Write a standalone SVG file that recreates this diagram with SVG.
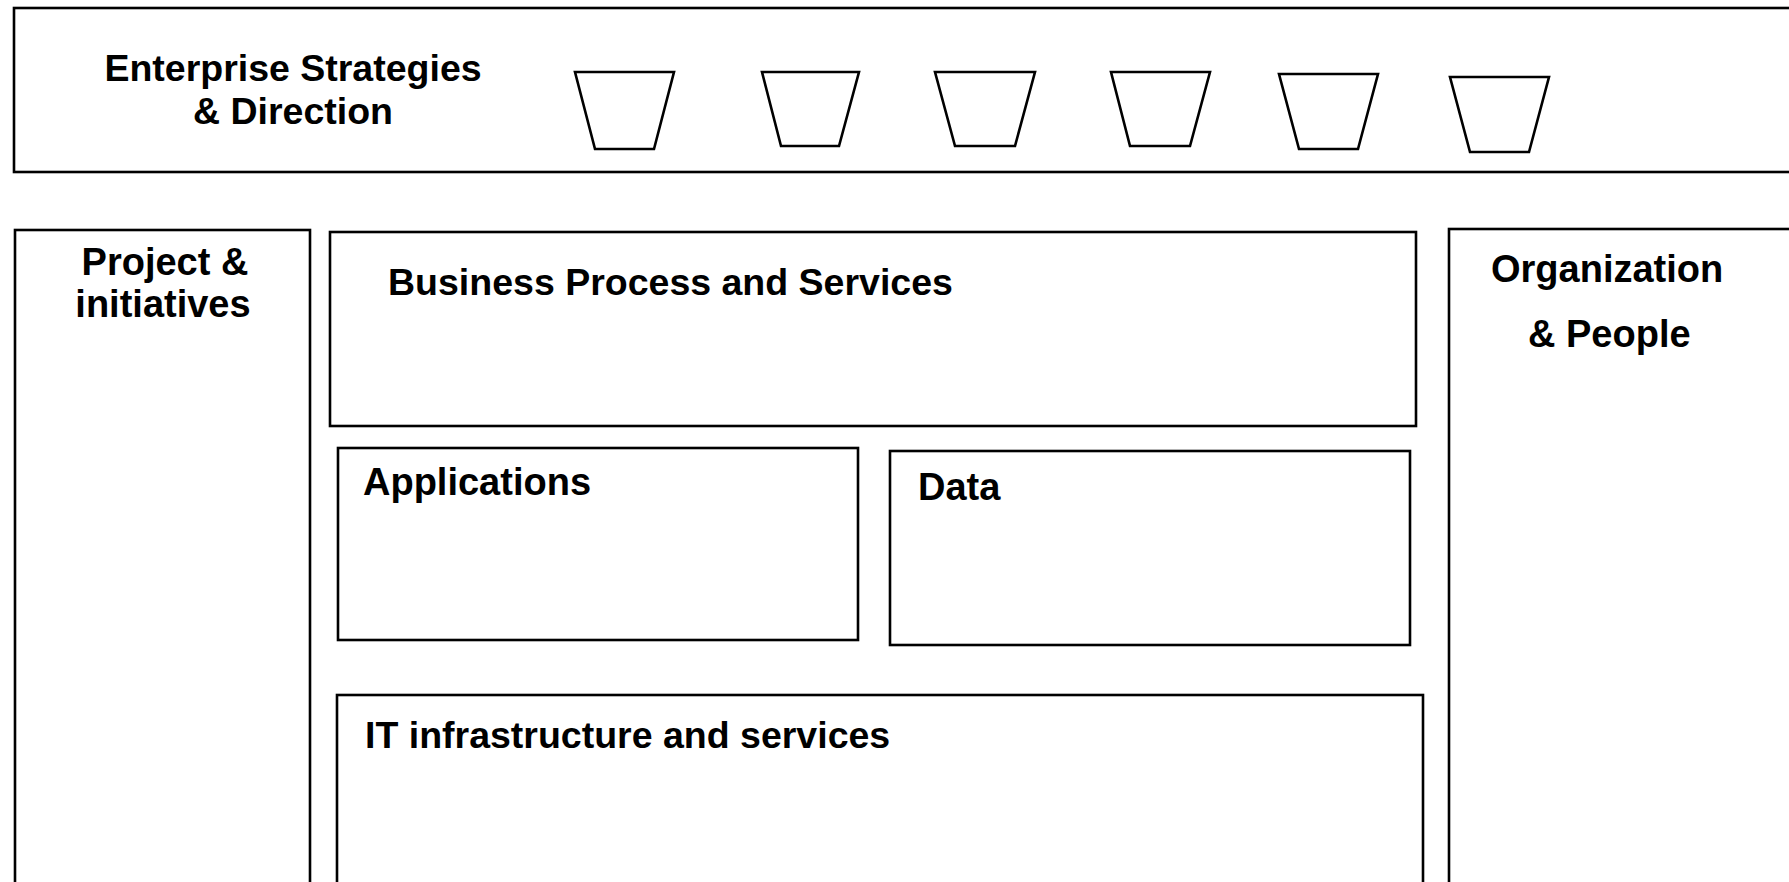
<svg xmlns="http://www.w3.org/2000/svg" width="1789" height="882" viewBox="0 0 1789 882">
<style>
.box{fill:#fff;stroke:#000;stroke-width:2.6}
.trap{fill:#fff;stroke:#000;stroke-width:2.6;stroke-linejoin:miter}
.lbl{font-family:"Liberation Sans",Arial,sans-serif;font-weight:bold;font-size:37.5px;fill:#000}
.lg{font-size:38px}
</style>
<rect width="1789" height="882" fill="#fff"/>
<g id="strategies">
<rect class="box" x="14" y="8" width="1800" height="164"/>
<text class="lbl" x="293" y="81" text-anchor="middle">Enterprise Strategies</text>
<text class="lbl" x="293" y="124" text-anchor="middle">&amp; Direction</text>
<polygon class="trap" points="575,72 674,72 654,149 595,149"/>
<polygon class="trap" points="762,72 859,72 839,146 781,146"/>
<polygon class="trap" points="935,72 1035,72 1015,146 955,146"/>
<polygon class="trap" points="1111,72 1210,72 1190,146 1130,146"/>
<polygon class="trap" points="1279,74 1378,74 1358,149 1299,149"/>
<polygon class="trap" points="1450,77 1549,77 1529,152 1470,152"/>
</g>
<g id="projects">
<rect class="box" x="15" y="230" width="295" height="700"/>
<text class="lbl lg" x="165" y="275" text-anchor="middle">Project &amp;</text>
<text class="lbl lg" x="163" y="317" text-anchor="middle">initiatives</text>
</g>
<g id="business">
<rect class="box" x="330" y="232" width="1086" height="194"/>
<text class="lbl" x="388" y="295">Business Process and Services</text>
</g>
<g id="applications">
<rect class="box" x="338" y="448" width="520" height="192"/>
<text class="lbl lg" x="363" y="495">Applications</text>
</g>
<g id="data">
<rect class="box" x="890" y="451" width="520" height="194"/>
<text class="lbl lg" x="918" y="500">Data</text>
</g>
<g id="infrastructure">
<rect class="box" x="337" y="695" width="1086" height="300"/>
<text class="lbl" x="365" y="748">IT infrastructure and services</text>
</g>
<g id="organization">
<rect class="box" x="1449" y="229" width="400" height="700"/>
<text class="lbl lg" x="1491" y="282">Organization</text>
<text class="lbl lg" x="1528" y="347">&amp; People</text>
</g>
<g id="connectors"></g>
</svg>
